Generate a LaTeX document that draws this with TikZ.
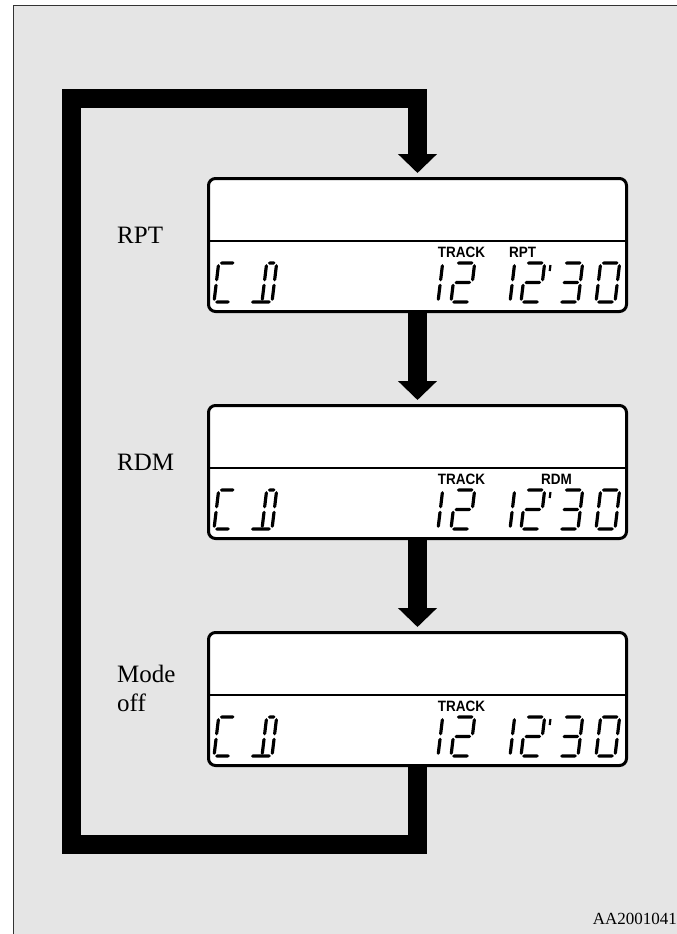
\documentclass[tikz,border=0pt]{standalone}
\usepackage{fontspec}
\setmainfont{Liberation Serif}
\newfontfamily\lcdfont{Liberation Sans}[FakeStretch=0.9]
\usetikzlibrary{arrows.meta}
% segment primitives (local coords: u right, w down; slanted by scope)
\newcommand\hseg[3]{\fill ({#1},{#3}) -- ({#1+1.6},{#3-1.6}) -- ({#2-1.6},{#3-1.6}) -- ({#2},{#3}) -- ({#2-1.6},{#3+1.6}) -- ({#1+1.6},{#3+1.6}) -- cycle;}
\newcommand\vseg[3]{\fill ({#1},{#2}) -- ({#1+1.6},{#2+1.6}) -- ({#1+1.6},{#3-1.6}) -- ({#1},{#3}) -- ({#1-1.6},{#3-1.6}) -- ({#1-1.6},{#2+1.6}) -- cycle;}
\newcommand\SegA{\hseg{1.2}{\segW-1.2}{-39}}
\newcommand\SegB{\vseg{\segW}{-37.8}{-20.7}}
\newcommand\SegC{\vseg{\segW}{-18.3}{-1.2}}
\newcommand\SegD{\hseg{1.2}{\segW-1.2}{0}}
\newcommand\SegE{\vseg{0}{-18.3}{-1.2}}
\newcommand\SegF{\vseg{0}{-37.8}{-20.7}}
\newcommand\SegG{\hseg{1.2}{\segW-1.2}{-19.5}}
\newcommand\Cell[4]{\begin{scope}[shift={({#1},{#2})},xslant=0.12]\def\segW{#3}#4\end{scope}}
\newcommand\LCD[2]{%
  \node[lcd] (#1) at (417.5,{#2+68}) {};
  \draw[divider] (208.5,{#2+64}) -- (626.5,{#2+64});
  \node[lcdtag] (#1tr) at (461.5,{#2+80}) {TRACK};
  \Cell{214}{#2+125}{17}{\SegA\SegF\SegE\SegD}
  \Cell{252}{#2+125}{20}{\hseg{11.2}{18.8}{-39}\vseg{10}{-37.8}{-20.7}\vseg{10}{-18.3}{-1.2}\SegB\SegC\hseg{-1}{18.8}{0}}
  \Cell{419}{#2+125}{19}{\SegB\SegC}
  \Cell{451}{#2+125}{19}{\SegA\SegB\SegG\SegE\SegD}
  \Cell{491}{#2+125}{19}{\SegB\SegC}
  \Cell{521}{#2+125}{19}{\SegA\SegB\SegG\SegE\SegD\draw[line width=2.2pt] (25,-37) -- (25,-31);}
  \Cell{559}{#2+125}{19}{\SegA\SegB\SegG\SegC\SegD}
  \Cell{596}{#2+125}{19}{\SegA\SegB\SegC\SegD\SegE\SegF}
}
\begin{document}
\begin{tikzpicture}[x=1pt,y=-1pt,
  lcd/.style={draw, line width=3pt, fill=white, rounded corners=7pt,
    minimum width=418pt, minimum height=133pt, inner sep=0pt},
  divider/.style={line width=1.4pt},
  lcdtag/.style={anchor=base, inner sep=0pt,
    font=\lcdfont\bfseries\fontsize{15}{15}\selectfont},
  modelabel/.style={anchor=base west, inner sep=0pt,
    font=\fontsize{25}{25}\selectfont},
  bigarrow/.style={line width=19pt, line join=miter,
    -{Triangle[width=38pt,length=19pt]}, shorten >=4pt}]
\useasboundingbox (0,0) rectangle (677,934);
\fill[white] (0,0) rectangle (677,934);
\draw[line width=1pt, draw=black!80, fill=black!10] (13,6) rectangle (700,960);

\LCD{d1}{177}
\LCD{d2}{404}
\LCD{d3}{631}
\node[lcdtag] (d1rpt) at (522.5,257) {RPT};
\node[lcdtag] (d2rdm) at (556.5,484) {RDM};

\node[modelabel] (lrpt) at (117,243) {RPT};
\node[modelabel] (lrdm) at (117,470) {RDM};
\node[modelabel] (lmode) at (117,682) {Mode};
\node[modelabel] (loff) at (117,711) {off};

\coordinate (lb) at (71.5,844.5);
\coordinate (lt) at (71.5,98.5);
\draw[bigarrow] (d1.south) -- (d2.north);
\draw[bigarrow] (d2.south) -- (d3.north);
\draw[bigarrow] (d3.south) |- (lb) -- (lt) -| (d1.north);

\node[anchor=base east, inner sep=0pt, font=\fontsize{17}{17}\selectfont]
  (code) at (677,924) {AA2001041};
\end{tikzpicture}
\end{document}
